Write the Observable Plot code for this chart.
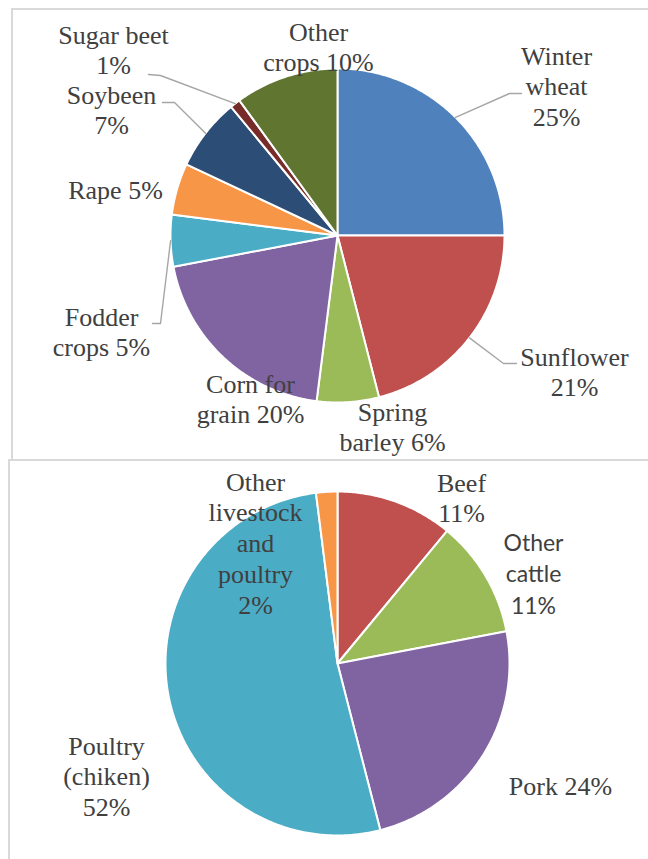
<!DOCTYPE html>
<html><head><meta charset="utf-8">
<script src="https://cdn.jsdelivr.net/npm/d3@7"></script>
<script src="https://cdn.jsdelivr.net/npm/@observablehq/plot@0.6"></script>
<style>
html,body{margin:0;padding:0;background:#fff;width:648px;height:859px;overflow:hidden;}
.panel{position:absolute;border:2px solid #d9d9d9;box-sizing:border-box;background:#fff;}
#chart{position:absolute;left:0;top:0;}
</style></head><body>
<div class="panel" style="left:11px;top:8px;width:700px;height:460px"></div>
<div class="panel" style="left:8px;top:459px;width:700px;height:420px"></div>
<div id="chart"></div>
<script>
// ---- data ----
const cropNames = ["Winter wheat","Sunflower","Spring barley","Corn for grain","Fodder crops","Rape","Soybeen","Sugar beet","Other crops"];
const cropShares = [25,21,6,20,5,5,7,1,10];
const livestockNames = ["Beef","Other cattle","Pork","Poultry (chiken)","Other livestock and poultry"];
const livestockShares = [11,11,24,52,2];

// ---- styles ----
const cropColors = ["#4F81BD","#C0504D","#9BBB59","#8064A2","#4BACC6","#F79646","#2C4D75","#772C2A","#5F7530"];
const livestockColors = ["#C0504D","#9BBB59","#8064A2","#4BACC6","#F79646"];

// ---- layout (page pixels) ----
const cropPie = {cx:337, cy:235, r:167};
const livePie = {cx:337, cy:663, r:172};
// label: x center, bl = baseline of first line, breaks = word indexes after which a line break occurs
const cropLayout = [
  {x:556, bl:64,  breaks:[0,1], leader:[[509,93],[521,93]]},
  {x:574, bl:365, breaks:[0],   leader:[[503,363],[516,363]]},
  {x:392, bl:420, breaks:[0]},
  {x:250, bl:392, breaks:[1]},
  {x:101, bl:325, breaks:[0],   leader:[[160,323],[152,323]]},
  {x:115, bl:198, breaks:[]},
  {x:111, bl:103, breaks:[0],   leader:[[174,102],[162,102]]},
  {x:113, bl:43,  breaks:[1],   leader:[[160,75],[148,74]]},
  {x:318, bl:40,  breaks:[0]}
];
const liveLayout = [
  {x:461, bl:491, breaks:[0]},
  {x:533, bl:550, breaks:[0,1], sans:true},
  {x:560, bl:794, breaks:[]},
  {x:106, bl:754, breaks:[0,1]},
  {x:255, bl:490, breaks:[0,1,2,3]}
];
const SERIF = {family:"Liberation Serif", size:26, lh:1.19};
const SANS = {family:"Lato", size:23, lh:1.38};

function label(name, share, breaks){
  const words = (name + " " + share + "%").split(" ");
  return words.map((w,i)=> w + (i < words.length-1 ? (breaks.includes(i) ? "\n" : " ") : "")).join("");
}
function build(names, shares, colors, pie, layout){
  const arcs = d3.pie().sort(null).value(d=>d)(shares);
  const pts = [], leaders = [], serif = [], sans = [];
  arcs.forEach((a,i)=>{
    const name = names[i], color = colors[i];
    const n = Math.max(2, Math.ceil((a.endAngle-a.startAngle)/0.01));
    pts.push({name, color, x:pie.cx, y:pie.cy});
    for(let k=0;k<=n;k++){
      const t = a.startAngle + (a.endAngle-a.startAngle)*k/n;
      pts.push({name, color, x:pie.cx + pie.r*Math.sin(t), y:pie.cy - pie.r*Math.cos(t)});
    }
    pts.push({name, color, x:pie.cx, y:pie.cy});
    const L = layout[i];
    if (L.leader){
      const m = (a.startAngle + a.endAngle)/2;
      leaders.push({name, x:pie.cx + pie.r*Math.sin(m), y:pie.cy - pie.r*Math.cos(m)});
      L.leader.forEach(p=>leaders.push({name, x:p[0], y:p[1]}));
    }
    const F = L.sans ? SANS : SERIF;
    (L.sans ? sans : serif).push({x:L.x, y:L.bl - 0.71*F.lh*F.size, text:label(name, shares[i], L.breaks)});
  });
  return {pts, leaders, serif, sans};
}
const crops = build(cropNames, cropShares, cropColors, cropPie, cropLayout);
const live = build(livestockNames, livestockShares, livestockColors, livePie, liveLayout);

const sliceOpts = {x:"x", y:"y", z:"name", fill:"color", stroke:"#ffffff", strokeWidth:2, strokeLinejoin:"round"};
const leaderOpts = {x:"x", y:"y", z:"name", stroke:"#a6a6a6", strokeWidth:1.4};
const serifOpts = {x:"x", y:"y", text:"text", fontFamily:SERIF.family, fontSize:SERIF.size, lineHeight:SERIF.lh, lineAnchor:"top", textAnchor:"middle", fill:"#404040"};
const sansOpts = {x:"x", y:"y", text:"text", fontFamily:SANS.family, fontSize:SANS.size, lineHeight:SANS.lh, lineAnchor:"top", textAnchor:"middle", fill:"#404040"};

const chart = Plot.plot({
  width:648, height:859, margin:0,
  x:{domain:[0,648], range:[0,648], axis:null},
  y:{domain:[0,859], range:[0,859], axis:null},
  color:{type:"identity"},
  style:{background:"transparent", overflow:"visible"},
  marks:[
    Plot.line(crops.pts, sliceOpts),
    Plot.line(live.pts, sliceOpts),
    Plot.line(crops.leaders, leaderOpts),
    Plot.line(live.leaders, leaderOpts),
    Plot.text(crops.serif, serifOpts),
    Plot.text(live.serif, serifOpts),
    Plot.text(live.sans, sansOpts)
  ]
});
document.getElementById("chart").appendChild(chart);
</script>
</body></html>
